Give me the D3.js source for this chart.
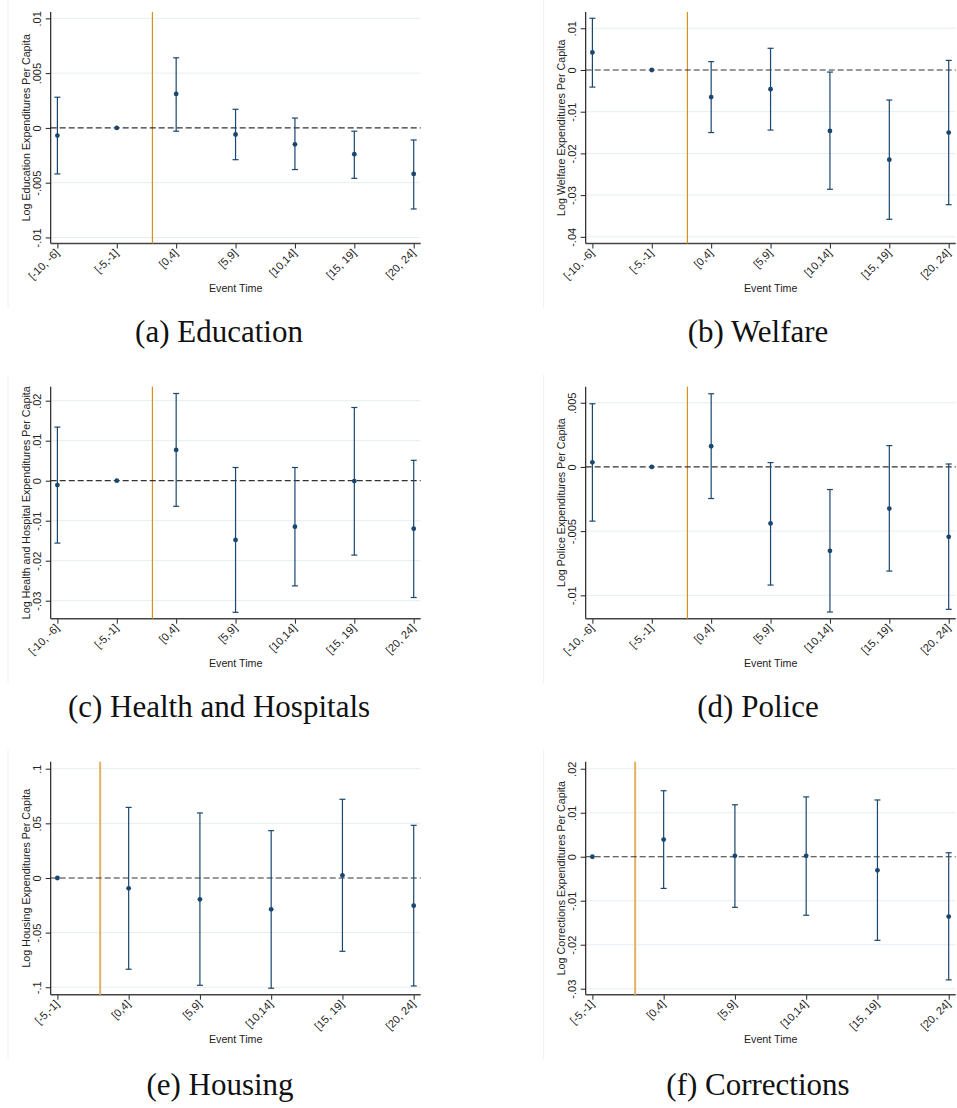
<!DOCTYPE html>
<html>
<head>
<meta charset="utf-8">
<script src="https://cdn.jsdelivr.net/npm/d3@7"></script>
<style>
  body { margin: 0; background: #fff; }
  svg { display: block; }
</style>
</head>
<body>
<svg id="chart"></svg>
<script>
const W = 957, H = 1108;

// event-time bins
const binsFull = ['[-10, -6]', '[-5,-1]', '[0,4]', '[5,9]', '[10,14]', '[15, 19]', '[20, 24]'];
const binsShort = ['[-5,-1]', '[0,4]', '[5,9]', '[10,14]', '[15, 19]', '[20, 24]'];

// point estimates and 95% CI bounds (reference bin [-5,-1] has no CI)
const educationEst = [-0.0007, 0, 0.0031, -0.0006, -0.0015, -0.0024, -0.0042];
const educationLo  = [-0.0042, null, -0.0003, -0.0029, -0.0038, -0.0046, -0.0074];
const educationHi  = [0.0028, null, 0.0064, 0.0017, 0.0009, -0.0003, -0.0011];

const welfareEst = [0.0042, 0, -0.0065, -0.0046, -0.0146, -0.0215, -0.0150];
const welfareLo  = [-0.0041, null, -0.0150, -0.0144, -0.0286, -0.0358, -0.0323];
const welfareHi  = [0.0124, null, 0.0020, 0.0052, -0.0005, -0.0072, 0.0023];

const healthEst = [-0.0011, 0, 0.0077, -0.0148, -0.0115, -0.0001, -0.0120];
const healthLo  = [-0.0156, null, -0.0064, -0.0329, -0.0263, -0.0186, -0.0292];
const healthHi  = [0.0134, null, 0.0218, 0.0033, 0.0033, 0.0183, 0.0051];

const policeEst = [0.00036, 0, 0.00161, -0.0044, -0.00653, -0.00324, -0.00544];
const policeLo  = [-0.00422, null, -0.00246, -0.0092, -0.0113, -0.00811, -0.01109];
const policeHi  = [0.00492, null, 0.0057, 0.00034, -0.00176, 0.00166, 0.00023];

const housingEst = [0, -0.0095, -0.0195, -0.0287, 0.0024, -0.0253];
const housingLo  = [null, -0.0835, -0.0982, -0.1009, -0.0671, -0.0988];
const housingHi  = [null, 0.0646, 0.0595, 0.0433, 0.0720, 0.0482];

const correctionsEst = [0, 0.0039, 0.0002, 0.0002, -0.0031, -0.0136];
const correctionsLo  = [null, -0.0072, -0.0115, -0.0133, -0.0190, -0.0280];
const correctionsHi  = [null, 0.0150, 0.0118, 0.0136, 0.0129, 0.0009];

// y tick values
const educationTicks   = [-0.01, -0.005, 0, 0.005, 0.01];
const welfareTicks     = [-0.04, -0.03, -0.02, -0.01, 0, 0.01];
const healthTicks      = [-0.03, -0.02, -0.01, 0, 0.01, 0.02];
const policeTicks      = [-0.01, -0.005, 0, 0.005];
const housingTicks     = [-0.1, -0.05, 0, 0.05, 0.1];
const correctionsTicks = [-0.03, -0.02, -0.01, 0, 0.01, 0.02];

const navy = '#1a476f';

const panels = [
  {bins: binsFull, est: educationEst, lo: educationLo, hi: educationHi, ticks: educationTicks,
   yDomain: [-0.01055, 0.01058], title: 'Log Education Expenditures Per Capita', caption: '(a) Education',
   left: 50.7, right: 420.7, top: 12, bottom: 243.5, border: 8, capX: 219, capY: 342, vline: ['#d8901a', 1.2]},
  {bins: binsFull, est: welfareEst, lo: welfareLo, hi: welfareHi, ticks: welfareTicks,
   yDomain: [-0.0416, 0.0139], title: 'Log Welfare Expenditures Per Capita', caption: '(b) Welfare',
   left: 585.7, right: 955.7, top: 12, bottom: 243.5, border: 543.7, capX: 758, capY: 342, vline: ['#d8901a', 1.2]},
  {bins: binsFull, est: healthEst, lo: healthLo, hi: healthHi, ticks: healthTicks,
   yDomain: [-0.0345, 0.0235], title: 'Log Health and Hospital Expenditures Per Capita', caption: '(c) Health and Hospitals',
   left: 50.7, right: 420.7, top: 386.7, bottom: 618.7, border: 8, capX: 219, capY: 717, vline: ['#d8901a', 1.2]},
  {bins: binsFull, est: policeEst, lo: policeLo, hi: policeHi, ticks: policeTicks,
   yDomain: [-0.01182, 0.00625], title: 'Log Police Expenditures Per Capita', caption: '(d) Police',
   left: 585.7, right: 955.7, top: 386.7, bottom: 618.7, border: 543.7, capX: 758, capY: 717, vline: ['#d8901a', 1.2]},
  {bins: binsShort, est: housingEst, lo: housingLo, hi: housingHi, ticks: housingTicks,
   yDomain: [-0.1068, 0.1064], title: 'Log Housing Expenditures Per Capita', caption: '(e) Housing',
   left: 50.7, right: 420.7, top: 761.7, bottom: 994.7, border: 8, capX: 220, capY: 1095, vline: ['#e2b163', 2]},
  {bins: binsShort, est: correctionsEst, lo: correctionsLo, hi: correctionsHi, ticks: correctionsTicks,
   yDomain: [-0.03136, 0.0216], title: 'Log Corrections Expenditures Per Capita', caption: '(f) Corrections',
   left: 585.7, right: 955.7, top: 761.7, bottom: 994.7, border: 543.7, capX: 758, capY: 1095, vline: ['#e2b163', 2]}
];

const svg = d3.select('#chart').attr('width', W).attr('height', H);

// stata style: drop leading zero, plain hyphen
const fmt = v => {
  if (v === 0) return '0';
  return String(+v.toPrecision(3)).replace('0.', '.');
};

panels.forEach(p => {
  const g = svg.append('g');
  const n = p.bins.length;
  const x = d3.scaleLinear().domain([0, n - 1]).range([p.left + 6.7, p.right - 7]);
  const y = d3.scaleLinear().domain(p.yDomain).range([p.bottom, p.top]);

  // faint graph border
  g.append('line')
    .attr('x1', p.border).attr('x2', p.border)
    .attr('y1', p.top - 12).attr('y2', p.bottom + 65)
    .attr('stroke', '#f0f0f0').attr('stroke-width', 1);

  // gridlines
  g.append('g').selectAll('line')
    .data(p.ticks.filter(t => t !== 0))
    .enter().append('line')
    .attr('x1', p.left).attr('x2', p.right)
    .attr('y1', d => y(d)).attr('y2', d => y(d))
    .attr('stroke', '#e6eef1').attr('stroke-width', 1);

  // y axis
  const yAxis = g.append('g')
    .attr('transform', `translate(${p.left},0)`)
    .call(d3.axisLeft(y).tickValues(p.ticks).tickSize(5).tickFormat(fmt));
  yAxis.select('.domain').remove();
  yAxis.selectAll('line').attr('stroke', '#222');
  yAxis.selectAll('text')
    .attr('transform', 'translate(-10,0) rotate(-90)')
    .attr('x', 0).attr('y', 0).attr('dy', 0)
    .attr('text-anchor', 'middle')
    .style('font-family', '"Liberation Sans", Arial, sans-serif')
    .style('font-size', '11px').attr('fill', '#222');
  g.append('line')
    .attr('x1', p.left).attr('x2', p.left)
    .attr('y1', p.top).attr('y2', p.bottom)
    .attr('stroke', '#111').attr('stroke-width', 1.1);

  // x axis
  const xAxis = g.append('g')
    .attr('transform', `translate(0,${p.bottom})`)
    .call(d3.axisBottom(x).tickValues(d3.range(n)).tickSize(5).tickFormat(i => p.bins[i]));
  xAxis.select('.domain').remove();
  xAxis.selectAll('line').attr('stroke', '#222');
  xAxis.selectAll('text')
    .attr('transform', 'translate(2,10) rotate(-45)')
    .attr('x', 0).attr('y', 0).attr('dy', 0)
    .attr('text-anchor', 'end')
    .style('font-family', '"Liberation Sans", Arial, sans-serif')
    .style('font-size', '11px').attr('fill', '#222');
  g.append('line')
    .attr('x1', p.left).attr('x2', p.right)
    .attr('y1', p.bottom).attr('y2', p.bottom)
    .attr('stroke', '#444').attr('stroke-width', 1.4);

  // treatment line between [-5,-1] and [0,4]
  const refIdx = p.bins.indexOf('[-5,-1]');
  g.append('line')
    .attr('x1', x(refIdx + 0.6)).attr('x2', x(refIdx + 0.6))
    .attr('y1', p.top).attr('y2', p.bottom)
    .attr('stroke', p.vline[0]).attr('stroke-width', p.vline[1]);

  // zero line
  g.append('line')
    .attr('x1', p.left).attr('x2', p.right)
    .attr('y1', y(0)).attr('y2', y(0))
    .attr('stroke', '#333').attr('stroke-width', 1.2)
    .attr('stroke-dasharray', '6,3');

  // error bars
  const rows = p.est.map((e, i) => ({i, e, lo: p.lo[i], hi: p.hi[i]}));
  const ci = rows.filter(r => r.lo !== null);
  const bars = g.append('g').attr('stroke', navy).attr('stroke-width', 1.2);
  bars.selectAll('.v').data(ci).enter().append('line')
    .attr('x1', d => x(d.i)).attr('x2', d => x(d.i))
    .attr('y1', d => y(d.lo)).attr('y2', d => y(d.hi));
  bars.selectAll('.capHi').data(ci).enter().append('line')
    .attr('x1', d => x(d.i) - 3).attr('x2', d => x(d.i) + 3)
    .attr('y1', d => y(d.hi)).attr('y2', d => y(d.hi));
  bars.selectAll('.capLo').data(ci).enter().append('line')
    .attr('x1', d => x(d.i) - 3).attr('x2', d => x(d.i) + 3)
    .attr('y1', d => y(d.lo)).attr('y2', d => y(d.lo));

  // point estimates
  g.append('g').selectAll('circle')
    .data(rows).enter().append('circle')
    .attr('cx', d => x(d.i)).attr('cy', d => y(d.e))
    .attr('r', 2.4).attr('fill', navy);

  // axis titles
  g.append('text')
    .attr('transform', `translate(${p.left - 20.5},${(p.top + p.bottom) / 2}) rotate(-90)`)
    .attr('text-anchor', 'middle')
    .style('font-family', '"Liberation Sans", Arial, sans-serif')
    .style('font-size', '10.7px').attr('fill', '#222')
    .text(p.title);
  g.append('text')
    .attr('x', (p.left + p.right) / 2).attr('y', p.bottom + 48)
    .attr('text-anchor', 'middle')
    .style('font-family', '"Liberation Sans", Arial, sans-serif')
    .style('font-size', '10.7px').attr('fill', '#222')
    .text('Event Time');

  // caption
  g.append('text')
    .attr('x', p.capX).attr('y', p.capY)
    .attr('text-anchor', 'middle')
    .style('font-family', '"Liberation Serif", "Times New Roman", serif')
    .style('font-size', '31px').attr('fill', '#111')
    .text(p.caption);
});
</script>
</body>
</html>
